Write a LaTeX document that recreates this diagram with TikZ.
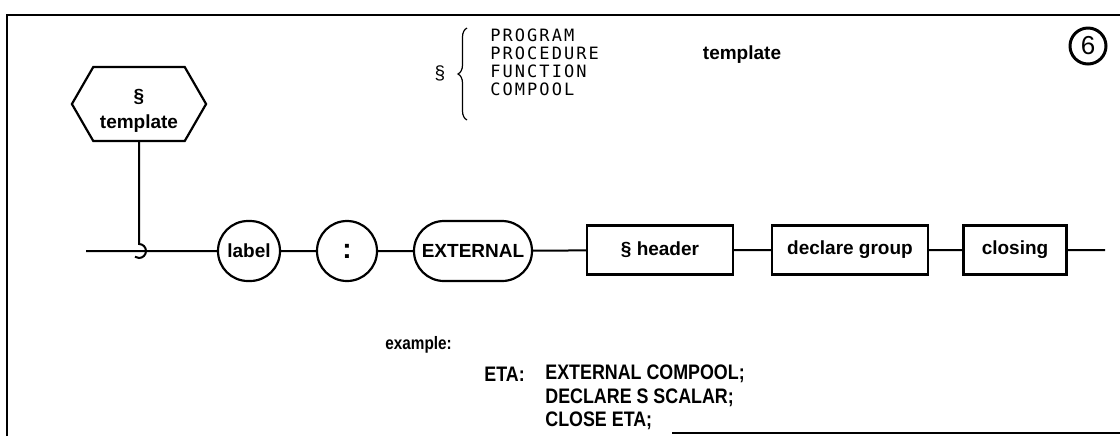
\documentclass[tikz,border=0pt]{standalone}
\usepackage{fontspec}
\setmainfont{Liberation Sans}
\newfontfamily\typefont[LetterSpace=12]{DejaVu Sans Mono}
\newfontfamily\codefont[FakeStretch=0.85]{Liberation Sans}
\usetikzlibrary{shapes.misc,shapes.symbols,decorations.pathreplacing}

\tikzset{
  frame/.style={line width=1pt},
  rail/.style={line width=1pt},
  termbox/.style={draw, line width=1.1pt, rounded rectangle, minimum height=30pt,
    inner xsep=4pt, font=\bfseries\fontsize{9.5}{11}\selectfont},
  ntbox/.style={draw, line width=1.1pt, rectangle, minimum height=24.5pt,
    font=\bfseries\fontsize{9.5}{11}\selectfont},
  hexbox/.style={draw, line width=1.1pt, signal, signal to=west and east,
    signal pointer angle=120, minimum width=58pt, minimum height=37pt,
    align=center, font=\bfseries\fontsize{9.5}{13}\selectfont},
  keyword/.style={align=left, anchor=north west, inner sep=0pt,
    font=\typefont\fontsize{8.5}{9}\selectfont},
  codeline/.style={anchor=west, inner sep=0pt, font=\codefont\bfseries\fontsize{10.5}{12}\selectfont}
}

\begin{document}
\begin{tikzpicture}[x=0.5pt,y=-0.5pt]
    \useasboundingbox (0,0) rectangle (1120,436);

    % Draw the frame
    \draw[frame] (7,436) -- (7,15) -- (1120,15);
    \draw[frame] (672,433) -- (1120,433);

    % Template symbol
    \node[hexbox] (tmpl) at (139,104) {\rule{0pt}{13pt}§\\template};

    % Heading
    \node[font=\fontsize{9.5}{11}\selectfont] (sect) at (440,73) {§};
    \coordinate (bracebot) at (467,120);
    \coordinate (bracetop) at (467,28);
    \draw[line width=0.6pt, decorate, decoration={brace, amplitude=4.5pt}] (bracebot) -- (bracetop);
    \node[keyword] (kinds) at (490,28) {PROGRAM\\PROCEDURE\\FUNCTION\\COMPOOL};
    \node[font=\bfseries\fontsize{9.5}{11}\selectfont] (word) at (742,55) {template};
    \node[draw, circle, line width=1.5pt, minimum size=18pt, inner sep=0pt,
      font=\fontsize{13}{15}\selectfont] (num) at (1088,46) {6};

    % Junction
    \coordinate (hook) at (139,244);
    \draw[rail] (tmpl.south) -- (hook) arc[start angle=-90, end angle=125, radius=7];

    % Main line
    \coordinate (start) at (86,251);
    \coordinate (finish) at (1105,250);
    \node[termbox, minimum width=39pt] (lbl) at (249,251) {label};
    \node[termbox, minimum width=31pt, font=\bfseries\fontsize{14}{14}\selectfont] (colon) at (347,251) {:};
    \node[termbox, minimum width=67pt] (ext) at (473,251) {EXTERNAL};
    \node[ntbox, minimum width=73pt] (hdr) at (660,250) {§ header};
    \node[ntbox, minimum width=78pt] (decl) at (850,250) {declare group};
    \node[ntbox, minimum width=51.5pt] (clos) at (1015,250) {closing};
    \draw[rail] (start) -- (lbl) -- (colon) -- (ext) -- (hdr) -- (decl) -- (clos) -- (finish);

    % Example
    \node[codeline, font=\codefont\bfseries\fontsize{9}{11}\selectfont] (ex) at (385,345) {example:};
    \node[codeline] (eta) at (484,374) {ETA:};
    \node[codeline] (line1) at (545,374) {EXTERNAL COMPOOL;};
    \node[codeline] (line2) at (545,398) {DECLARE S SCALAR;};
    \node[codeline] (line3) at (545,421) {CLOSE ETA;};
\end{tikzpicture}
\end{document}
